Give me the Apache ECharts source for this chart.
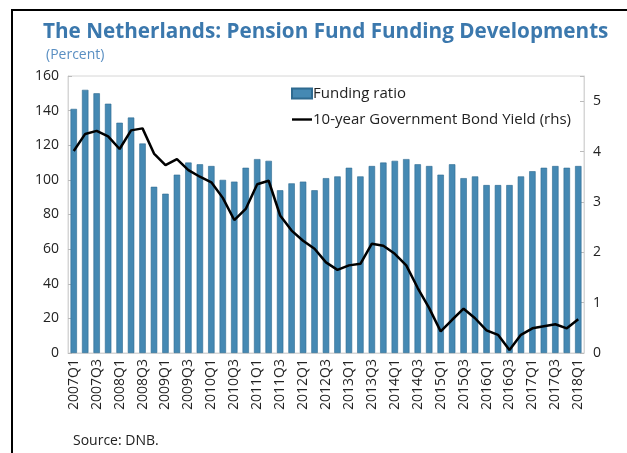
<!DOCTYPE html>
<html>
<head>
<meta charset="utf-8">
<script src="https://cdn.jsdelivr.net/npm/echarts@6/dist/echarts.min.js"></script>
<style>
  html, body { margin: 0; padding: 0; background: #fff; }
  #chart { width: 627px; height: 453px; }
</style>
</head>
<body>
<div id="chart"></div>
<script>
// quarters 2007Q1 .. 2018Q1
var quarters = [];
for (var y = 2007; y <= 2018; y++) {
    for (var q = 1; q <= 4; q++) {
        if (y === 2018 && q > 1) break;
        quarters.push(y + 'Q' + q);
    }
}

// funding ratio, percent (lhs)
var fundingRatio = [
    141, 152, 150, 144, 133, 136, 121, 96, 92, 103,
    110, 109, 108, 100, 99, 107, 112, 111, 94, 98,
    99, 94, 101, 102, 107, 102, 108, 110, 111, 112,
    109, 108, 103, 109, 101, 102, 97, 97, 97, 102,
    105, 107, 108, 107, 108
];

// 10-year government bond yield, percent (rhs)
var bondYield = [
    4.01, 4.35, 4.41, 4.30, 4.05, 4.42, 4.46, 3.96, 3.73, 3.85,
    3.63, 3.50, 3.39, 3.08, 2.64, 2.86, 3.35, 3.42, 2.73, 2.43,
    2.23, 2.07, 1.80, 1.65, 1.74, 1.77, 2.17, 2.13, 1.97, 1.74,
    1.29, 0.89, 0.43, 0.66, 0.88, 0.69, 0.45, 0.36, 0.06, 0.36,
    0.49, 0.53, 0.57, 0.49, 0.67
];

var font = 'Open Sans';
var chart = echarts.init(document.getElementById('chart'));

var option = {
    animation: false,
    textStyle: { fontFamily: font },
    title: [
        {
            text: 'The Netherlands: Pension Fund Funding Developments',
            left: 38, top: 17,
            textStyle: { fontFamily: font, fontSize: 20.7, fontWeight: 'bold', color: '#3b78ad' }
        },
        {
            text: '(Percent)',
            left: 41, top: 43,
            textStyle: { fontFamily: font, fontSize: 14, fontWeight: 'normal', color: '#5a8fc2' }
        },
        {
            text: 'Source: DNB.',
            left: 68, top: 429,
            textStyle: { fontFamily: font, fontSize: 14, fontWeight: 'normal', color: '#222' }
        }
    ],
    legend: {
        orient: 'vertical',
        left: 286, top: 81,
        itemWidth: 20, itemHeight: 10,
        itemGap: 11,
        textStyle: { fontFamily: font, fontSize: 15, color: '#222', padding: [0, 0, 0, -4] },
        data: [
            { name: 'Funding ratio', icon: 'rect' },
            { name: '10-year Government Bond Yield (rhs)', icon: 'path://M0,0 L20,0 L20,2.4 L0,2.4 Z' }
        ]
    },
    grid: {
        left: 68, right: 43, top: 76, bottom: 100,
        show: true, borderColor: '#d6d6d6', borderWidth: 1
    },
    xAxis: {
        type: 'category',
        data: quarters,
        axisLine: { lineStyle: { color: '#d6d6d6' } },
        axisTick: { inside: true, length: 4, interval: 0, lineStyle: { color: '#bbb' } },
        axisLabel: { interval: 1, rotate: 90, fontSize: 14, color: '#222', margin: 6, fontFamily: font }
    },
    yAxis: [
        {
            type: 'value', min: 0, max: 160, interval: 20,
            splitLine: { show: false },
            axisLine: { show: true, lineStyle: { color: '#d6d6d6' } },
            axisTick: { show: true, inside: true, length: 4, lineStyle: { color: '#bbb' } },
            axisLabel: { fontSize: 14, color: '#222', margin: 9, fontFamily: font }
        },
        {
            type: 'value', min: 0, max: 5.5, interval: 1,
            splitLine: { show: false },
            axisLine: { show: true, lineStyle: { color: '#d6d6d6' } },
            axisTick: { show: true, inside: true, length: 4, lineStyle: { color: '#bbb' } },
            axisLabel: {
                fontSize: 14, color: '#222', margin: 9, fontFamily: font,
                formatter: function (v) { return v > 5 ? '' : v; }
            }
        }
    ],
    series: [
        {
            name: 'Funding ratio',
            type: 'bar',
            data: fundingRatio,
            barWidth: '56%',
            itemStyle: { color: '#4589b3', borderColor: '#2e6a90', borderWidth: 0.6 }
        },
        {
            name: '10-year Government Bond Yield (rhs)',
            type: 'line',
            yAxisIndex: 1,
            data: bondYield,
            symbol: 'none',
            lineStyle: { color: '#000', width: 2.5 },
            itemStyle: { color: '#000' }
        }
    ],
    graphic: [
        { type: 'line', shape: { x1: 11, y1: 10, x2: 627, y2: 10 }, style: { stroke: '#000', lineWidth: 2 } },
        { type: 'line', shape: { x1: 12, y1: 9, x2: 12, y2: 453 }, style: { stroke: '#000', lineWidth: 2 } }
    ]
};

chart.setOption(option);
</script>
</body>
</html>
